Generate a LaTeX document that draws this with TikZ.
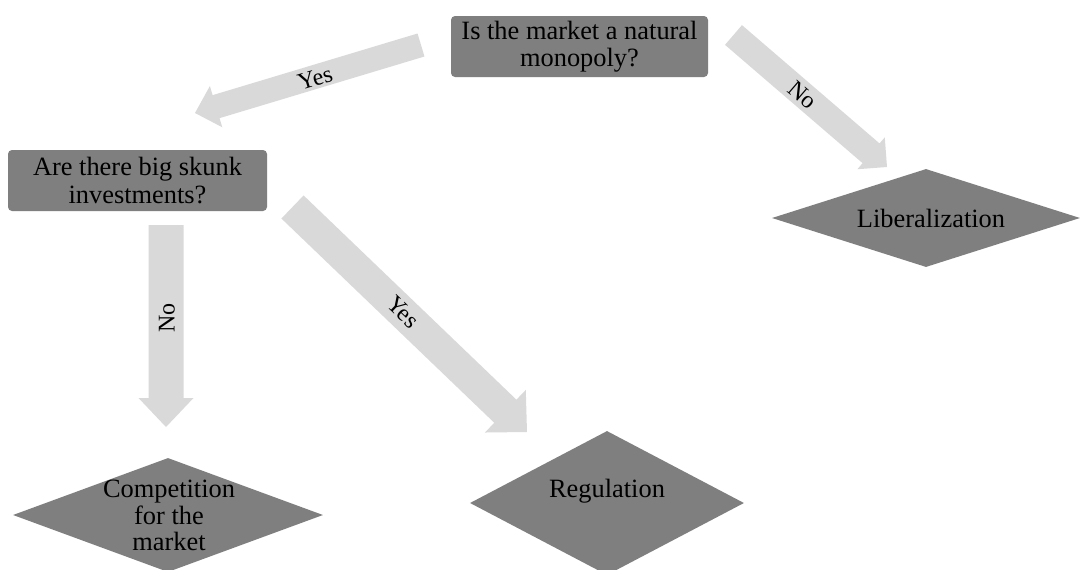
\documentclass[tikz,border=0pt]{standalone}
\usepackage{fontspec}
\setmainfont{Liberation Serif}
\usetikzlibrary{shapes.geometric,calc}

\definecolor{boxgray}{RGB}{127,127,127}
\definecolor{arrowgray}{RGB}{217,217,217}

\tikzset{
  qbox/.style={rectangle, rounded corners=4pt, fill=boxgray, inner sep=0pt,
    align=center, font=\fontsize{26.4}{27.5}\selectfont},
  outcome/.style={diamond, fill=boxgray, inner sep=0pt},
  otext/.style={inner sep=0pt, align=center, font=\fontsize{26.4}{26.8}\selectfont},
  alabel/.style={inner sep=0pt, font=\fontsize{24}{26}\selectfont},
}

% block arrow: #1 tail, #2 tip, #3 half shaft width, #4 half head width, #5 head length
\newcommand\blockarr[5]{%
  \coordinate (#1-neck) at ($(#2)!#5!(#1)$);
  \fill[arrowgray] ($(#1)!#3!90:(#2)$) -- ($(#1-neck)!#3!90:(#2)$)
    -- ($(#1-neck)!#4!90:(#2)$) -- (#2) -- ($(#1-neck)!#4!-90:(#2)$)
    -- ($(#1-neck)!#3!-90:(#2)$) -- ($(#1)!#3!-90:(#2)$) -- cycle;
}

\begin{document}
\begin{tikzpicture}[x=1pt, y=-1pt]
  \clip (0,0) rectangle (1080,570);
  \fill[white] (0,0) rectangle (1080,570);

  % questions
  \node[qbox, minimum width=257pt, minimum height=61pt] (q1) at (579.5,46.5)
    {Is the market a natural\\monopoly?};
  \node[qbox, minimum width=259pt, minimum height=61pt] (q2) at (137.5,180.5)
    {Are there big skunk\\investments?};

  % outcomes
  \node[outcome, minimum width=308pt, minimum height=98pt] (lib) at (926,218) {};
  \node[outcome, minimum width=274pt, minimum height=144pt] (reg) at (607,503) {};
  \node[outcome, minimum width=310pt, minimum height=114pt] (comp) at (168,515) {};
  \node[otext, anchor=base] (libtxt) at (931,227) {Liberalization};
  \node[otext, anchor=base] (regtxt) at (607,497) {Regulation};
  \node[otext] (comptxt) at (169,515.5) {Competition\\for the\\market};

  % arrow end points
  \coordinate (a1s) at (421,45);   \coordinate (a1e) at (195,113);
  \coordinate (a2s) at (733.5,35); \coordinate (a2e) at (887,167);
  \coordinate (a3s) at (166,225);  \coordinate (a3e) at (166,427);
  \coordinate (a4s) at (292.5,207);\coordinate (a4e) at (527,432);

  \blockarr{a1s}{a1e}{12pt}{21.5pt}{22pt}
  \blockarr{a2s}{a2e}{13pt}{21pt}{21pt}
  \blockarr{a3s}{a3e}{17.5pt}{27.5pt}{29pt}
  \blockarr{a4s}{a4e}{16pt}{29.5pt}{30pt}

  % answers
  \node[alabel, rotate=16.7]  (l1) at (315,78)  {Yes};
  \node[alabel, rotate=-40.7] (l2) at (803,95)  {No};
  \node[alabel, rotate=90]    (l3) at (167,318) {No};
  \node[alabel, rotate=-43.8] (l4) at (403,312) {Yes};
\end{tikzpicture}
\end{document}
